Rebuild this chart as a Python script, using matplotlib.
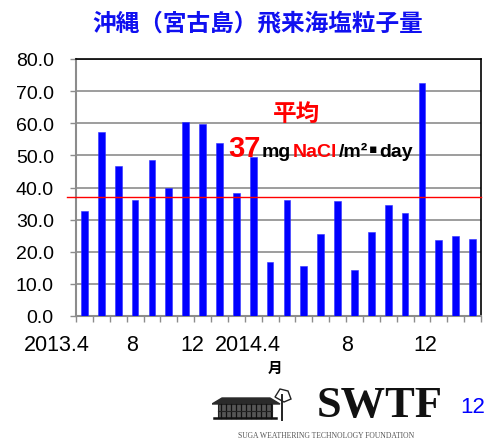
import matplotlib
matplotlib.use("Agg")
import matplotlib.pyplot as plt
import numpy as np
from matplotlib.patches import Polygon, Rectangle

plt.rcParams['font.family'] = ['Liberation Sans', 'Noto Sans CJK JP', 'DejaVu Sans']

# ---- data ----
months = ["2013.4", "5", "6", "7", "8", "9", "10", "11", "12", "2014.1", "2", "3",
          "2014.4", "5", "6", "7", "8", "9", "10", "11", "12", "2015.1", "2", "3"]
values = [32.8, 57.2, 46.8, 36.0, 48.6, 39.8, 60.4, 59.9, 53.9, 38.3, 49.4, 16.8,
          36.1, 15.7, 25.5, 35.7, 14.4, 26.0, 34.6, 32.1, 72.5, 23.6, 25.0, 24.0]
average = 37
xlabels = ["2013.4", "8", "12", "2014.4", "8", "12"]
xlabel_pos = [-1.63, 2.82, 6.37, 9.69, 15.56, 20.18]
yticks = [0, 10, 20, 30, 40, 50, 60, 70, 80]

fig = plt.figure(figsize=(4.93, 4.39), dpi=100)
ax = fig.add_axes([76/493, 1 - 317/439, 405/493, 257/439])

x = np.arange(len(values))
ax.bar(x, values, width=0.4, color='#0000FF', edgecolor='#3030FF', linewidth=0.4, zorder=3)

ax.set_xlim(-0.5, len(values) - 0.5)
ax.set_ylim(0, 80)
ax.set_yticks(yticks)
ax.set_yticklabels([f"{v:.1f}" for v in yticks], fontsize=14)
ax.yaxis.grid(True, color='#8c8c8c', linewidth=1.2, zorder=0)
ax.set_axisbelow(True)

ax.set_xticks(np.arange(-0.5, len(values), 1.0))
ax.set_xticklabels([])
ax.tick_params(axis='x', direction='out', length=4, color='#8c8c8c', width=1)
ax.tick_params(axis='y', direction='out', length=4, color='#8c8c8c', width=1, pad=12)

for s in ['left', 'bottom']:
    ax.spines[s].set_color('#8c8c8c')
    ax.spines[s].set_linewidth(1.5)
for s in ['top', 'right']:
    ax.spines[s].set_color('#000000')
    ax.spines[s].set_linewidth(1.2)

# average line (extends slightly left of the axis)
ax.plot([-0.022, 1.0], [average, average], transform=ax.get_yaxis_transform(),
        color='#FF0000', linewidth=1.0, clip_on=False, zorder=4)

# x tick labels
for lab, pos in zip(xlabels, xlabel_pos):
    ax.text(pos, -0.11, lab, transform=ax.get_xaxis_transform(), ha='center', va='center',
            fontsize=15.5)
ax.text(275/493, 1 - 368/439, "月", transform=fig.transFigure, ha='center', va='center',
        fontsize=10.5, fontweight='bold', family=['Noto Sans CJK JP'])

# title
fig.text(258/493, 1 - 23/439, "沖縄（宮古島）飛来海塩粒子量", ha='center', va='center',
         fontsize=17, fontweight='bold', color='#1010F0', family=['Noto Sans CJK JP'])

# average annotation
fig.text(297/493, 1 - 114/439, "平均", ha='center', va='center', fontsize=17,
         fontweight='bold', color='#FF0000', family=['Noto Sans CJK JP'])
t = fig.text(228/493, 1 - 157/439, f"{average}", ha='left', va='baseline', fontsize=21,
             fontweight='bold', color='#FF0000')
fig.canvas.draw()
renderer = fig.canvas.get_renderer()
parts = [("mg", '#000000', 14), ("NaCl", '#FF0000', 14), ("/m²", '#000000', 14),
         ("▪", '#000000', 9), ("day", '#000000', 14)]
prev = t
for txt, col, fs in parts:
    bb = prev.get_window_extent(renderer)
    fam = ['DejaVu Sans'] if txt == "▪" else ['Liberation Sans']
    prev = fig.text(bb.x1 / fig.bbox.width + 0.003, 1 - 157/439 + (0.010 if txt == "▪" else 0),
                    txt, ha='left', va='baseline',
                    fontsize=fs, fontweight='bold', color=col, family=fam)

# logo approximation
fig.text(380/493, 1 - 406/439, "SWTF", ha='center', va='center', fontsize=32,
         fontweight='bold', family=['Liberation Serif'], color='#111111')
fig.text(326/493, 1 - 436/439, "SUGA WEATHERING TECHNOLOGY FOUNDATION", ha='center', va='center',
         fontsize=5.5, family=['Liberation Serif'], color='#555555')
lax = fig.add_axes([212/493, 1 - 422/439, 80/493, 34/439])
lax.set_xlim(0, 80); lax.set_ylim(0, 34); lax.axis('off')
lax.add_patch(Polygon([[0, 17], [10, 23], [58, 23], [68, 17]], closed=True, color='#2a2a2a'))
lax.add_patch(Rectangle((6, 3), 54, 14, facecolor='#555555', edgecolor='#222222', linewidth=0.8))
for xx in range(9, 60, 5):
    lax.plot([xx, xx], [3, 17], color='#111111', linewidth=0.9)
lax.plot([6, 60], [10, 10], color='#222222', linewidth=0.8)
lax.plot([2, 64], [3, 3], color='#111111', linewidth=1.8)
lax.plot([70, 70], [1, 26], color='#222222', linewidth=1.4)
lax.add_patch(Polygon([[63, 24], [68, 32], [76, 30], [79, 22], [72, 19]], closed=True,
                      facecolor='none', edgecolor='#222222', linewidth=1.0))

fig.text(473/493, 1 - 408/439, "12", ha='center', va='center', fontsize=16, color='#0000FF')

fig.savefig("out.png", dpi=100)
